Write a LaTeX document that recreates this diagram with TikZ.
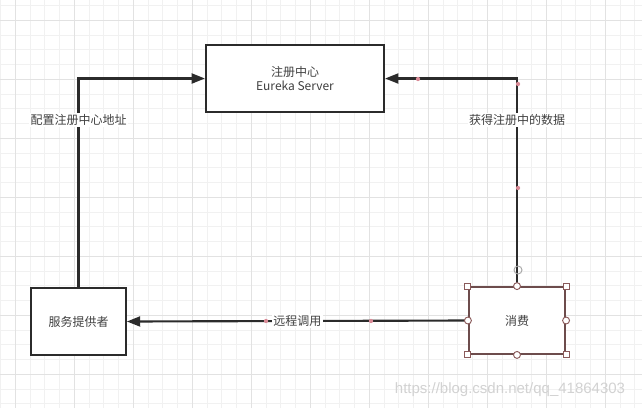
\documentclass[tikz,border=0pt]{standalone}
\usepackage{fontspec}
\setmainfont{Noto Sans CJK SC}
\newfontfamily\wmfont{Liberation Sans}
\usetikzlibrary{arrows.meta, positioning}
\definecolor{lineclr}{HTML}{2B2B2B}
\definecolor{minorgrid}{HTML}{F1F1F1}
\definecolor{majorgrid}{HTML}{E2E2E2}
\definecolor{selclr}{HTML}{8A5A5A}
\definecolor{dotclr}{HTML}{D98A96}
\tikzset{
    box/.style={rectangle, draw=lineclr, line width=1.6pt, fill=white, minimum height=50pt, align=center, font=\fontsize{9}{10.5}\selectfont, text=lineclr!90},
    arrow/.style={-{Triangle[length=10pt, width=7.5pt]}, line width=1.6pt, draw=lineclr},
    lbl/.style={fill=white, inner sep=1pt, font=\fontsize{9}{11}\selectfont, text=lineclr!90},
    wpt/.style={fill=dotclr, draw=none},
    handle/.style={fill=white, draw=selclr, line width=0.7pt},
}

\begin{document}
\begin{tikzpicture}[x=0.75pt, y=-0.75pt]
    \useasboundingbox[fill=white] (0,0) rectangle (642,408);
    % grid
    \foreach \i in {0,...,43} { \draw[minorgrid, line width=0.75pt] ({0.55+14.75*\i},0) -- ++(0,408); }
    \foreach \j in {0,...,27} { \draw[minorgrid, line width=0.75pt] (0,{5.55+14.75*\j}) -- ++(642,0); }
    \foreach \i in {0,...,10} { \draw[majorgrid, line width=0.75pt] ({15.3+59*\i},0) -- ++(0,408); }
    \foreach \j in {0,...,6} { \draw[majorgrid, line width=0.75pt] (0,{20.3+59*\j}) -- ++(642,0); }

    \node[box, minimum width=133.5pt] (eureka) at (295,78.5) {注册中心\\Eureka Server};
    \node[box, minimum width=71pt] (provider) at (78.5,321.5) {服务提供者};
    \node[box, minimum width=72pt, draw=selclr!70!lineclr] (consumer) at (517,320.5) {消费};

    \draw[arrow] (provider.north) |- node[lbl, pos=0.4] (cfg) {配置注册中心地址} (eureka.west);
    \draw[arrow] (consumer.north) |- node[lbl, pos=0.4] (fetch) {获得注册中的数据} (eureka.east);
    \draw[arrow] (consumer.west) -- node[lbl] (rpc) {远程调用} (provider.east);

    % waypoints
    \foreach \p in {(418,79), (518,84), (518,188), (266,321), (371,321)} { \fill[wpt] \p circle (1.6pt); }
    \draw[gray!70, line width=0.7pt] (518,270) circle (3pt);
    \foreach \a in {north west, north east, south west, south east} { \draw[handle] ([shift={(-3,-3)}]consumer.\a) rectangle ++(6,6); }
    \foreach \a in {north, south, east, west} { \draw[handle] (consumer.\a) circle (2.6pt); }

    \node[text=gray!35, font=\wmfont\fontsize{11.25}{12}\selectfont] (wm) at (510,390) {https://blog.csdn.net/qq\_41864303};
\end{tikzpicture}
\end{document}
